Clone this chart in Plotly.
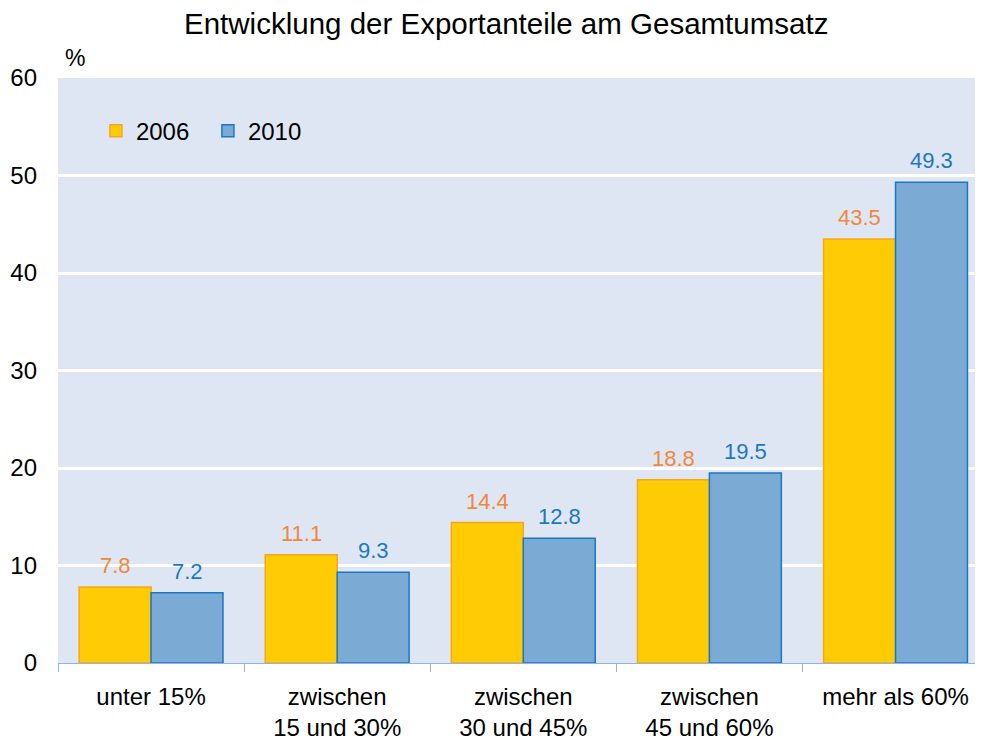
import plotly.graph_objects as go

categories = ["unter 15%", "zwischen<br>15 und 30%", "zwischen<br>30 und 45%",
              "zwischen<br>45 und 60%", "mehr als 60%"]
values_2006 = [7.8, 11.1, 14.4, 18.8, 43.5]
values_2010 = [7.2, 9.3, 12.8, 19.5, 49.3]
y_ticks = [0, 10, 20, 30, 40, 50, 60]

FONT = "Liberation Sans, Arial, sans-serif"
c06_fill, c06_line, c06_text = "#FFCB05", "#F7A51E", "#F0883A"
c10_fill, c10_line, c10_text = "#7BAAD4", "#1A78C2", "#1A78C2"

fig = go.Figure()
fig.add_trace(go.Bar(name="2006", x=categories, y=values_2006,
                     marker=dict(color=c06_fill, line=dict(color=c06_line, width=1.5))))
fig.add_trace(go.Bar(name="2010", x=categories, y=values_2010,
                     marker=dict(color=c10_fill, line=dict(color=c10_line, width=1.5))))

annotations = []
for i, cat in enumerate(categories):
    annotations.append(dict(x=cat, y=values_2006[i], xref="x", yref="y", xshift=-36, yshift=7,
                            text=f"{values_2006[i]:.1f}", showarrow=False, yanchor="bottom",
                            font=dict(family=FONT, size=22, color=c06_text)))
    annotations.append(dict(x=cat, y=values_2010[i], xref="x", yref="y", xshift=36, yshift=7,
                            text=f"{values_2010[i]:.1f}", showarrow=False, yanchor="bottom",
                            font=dict(family=FONT, size=22, color=c10_text)))
annotations.append(dict(x=0.018, y=1.034, xref="paper", yref="paper", text="%", showarrow=False,
                        font=dict(family=FONT, size=23, color="black"),
                        xanchor="center", yanchor="middle"))

fig.update_layout(
    width=975, height=736,
    margin=dict(l=50, r=0, t=70, b=81),
    paper_bgcolor="white", plot_bgcolor="#DFE6F3",
    font=dict(family=FONT, size=24, color="black"),
    title=dict(text="Entwicklung der Exportanteile am Gesamtumsatz", x=0.511, xanchor="center",
               y=1 - 16 / 736, yref="container", yanchor="middle",
               font=dict(family=FONT, size=29.5, color="black")),
    barmode="group", bargap=0.227, bargroupgap=0,
    showlegend=True,
    legend=dict(orientation="h", x=0.041, y=0.909, xanchor="left", yanchor="middle",
                bgcolor="rgba(0,0,0,0)", font=dict(family=FONT, size=24), itemwidth=30,
                entrywidth=67, traceorder="normal"),
    annotations=annotations,
)
fig.update_xaxes(range=[-0.5, 4.47], tickson="boundaries", ticks="outside", ticklen=8,
                 tickcolor="#8DB4E2", showline=True, linecolor="#8DB4E2", linewidth=1,
                 showgrid=False, ticklabelstandoff=12, tickfont=dict(family=FONT, size=24))
fig.update_yaxes(range=[0, 60], tickvals=y_ticks, showgrid=True, gridcolor="white", gridwidth=3,
                 zeroline=False, showline=False, ticks="", ticklabelstandoff=20,
                 tickfont=dict(family=FONT, size=24))

fig.write_html("out.html")
